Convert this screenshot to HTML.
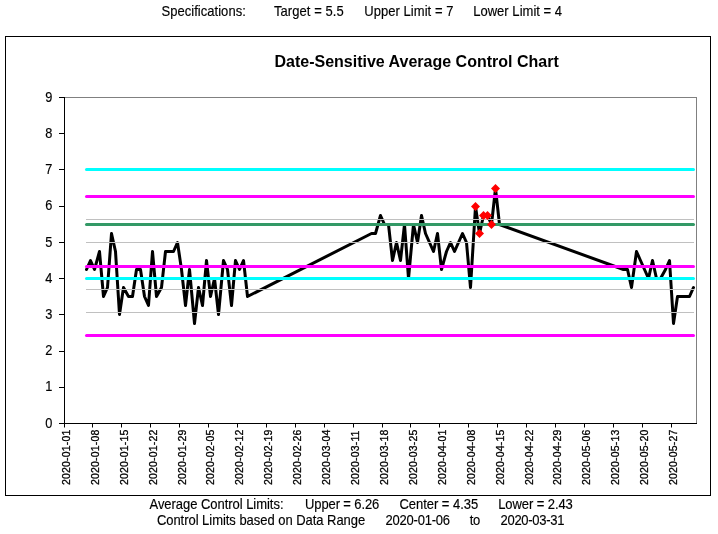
<!DOCTYPE html>
<html><head><meta charset="utf-8"><title>Date-Sensitive Average Control Chart</title>
<style>
html,body{margin:0;padding:0;background:#fff;}
body{width:718px;height:534px;position:relative;overflow:hidden;font-family:"Liberation Sans",Arial,sans-serif;color:#000;}
.t{position:absolute;white-space:pre;transform:scaleY(1.085);transform-origin:0 11.8px;-webkit-text-stroke:0.15px #000;font-size:13px;line-height:15px;}
svg text{font-family:"Liberation Sans",Arial,sans-serif;fill:#000;stroke:#000;stroke-width:0.15px;}
.yl{font-size:13.5px;}
.xl{font-size:10.5px;letter-spacing:0.17px;stroke-width:0.3px;}
.title{font-size:16px;font-weight:bold;stroke:none;}
</style></head><body>
<svg width="718" height="534" viewBox="0 0 718 534" style="position:absolute;left:0;top:0">
<rect x="5.5" y="36.5" width="705" height="459" fill="#fff" stroke="#000" stroke-width="1"/>
<rect x="64.5" y="97.5" width="632.0" height="326.0" fill="#fff" stroke="#808080" stroke-width="1"/>
<polyline points="86.50,269.50 90.50,260.50 94.50,269.50 99.50,251.50 103.50,296.50 107.50,287.50 111.50,233.50 115.50,251.50 119.50,314.50 123.50,287.50 128.50,296.50 132.50,296.50 136.50,269.50 140.50,269.50 144.50,296.50 148.50,305.50 152.50,251.50 156.50,296.50 161.50,287.50 165.50,251.50 169.50,251.50 173.50,251.50 177.50,242.50 181.50,269.50 185.50,305.50 189.50,269.50 194.50,323.50 198.50,287.50 202.50,305.50 206.50,260.50 210.50,296.50 214.50,278.50 218.50,314.50 223.50,260.50 227.50,269.50 231.50,305.50 235.50,260.50 239.50,269.50 243.50,260.50 247.50,296.50 371.50,233.50 375.50,233.50 380.50,215.50 384.50,224.50 388.50,224.50 392.50,260.50 396.50,242.50 400.50,260.50 404.50,224.50 408.50,278.50 413.50,224.50 417.50,242.50 421.50,215.50 425.50,233.50 429.50,242.50 433.50,251.50 437.50,233.50 441.50,269.50 446.50,251.50 450.50,242.50 454.50,251.50 458.50,242.50 462.50,233.50 466.50,242.50 470.50,287.50 475.50,206.50 479.50,233.50 483.50,215.50 487.50,215.50 491.50,224.50 495.50,188.50 499.50,224.50 623.50,269.50 627.50,269.50 631.50,287.50 636.50,251.50 640.50,260.50 644.50,269.50 648.50,278.50 652.50,260.50 656.50,278.50 660.50,278.50 665.50,269.50 669.50,260.50 673.50,323.50 677.50,296.50 681.50,296.50 685.50,296.50 689.50,296.50 693.50,287.50" fill="none" stroke="#000" stroke-width="3" stroke-linejoin="round" stroke-linecap="round"/>
<line x1="86.00" x2="694.00" y1="219.5" y2="219.5" stroke="#c0c0c0" stroke-width="1"/>
<line x1="86.00" x2="694.00" y1="242.5" y2="242.5" stroke="#c0c0c0" stroke-width="1"/>
<line x1="86.00" x2="694.00" y1="289.5" y2="289.5" stroke="#c0c0c0" stroke-width="1"/>
<line x1="86.00" x2="694.00" y1="312.5" y2="312.5" stroke="#c0c0c0" stroke-width="1"/>
<line x1="86.50" x2="693.50" y1="224.5" y2="224.5" stroke="#339966" stroke-width="3" stroke-linecap="round"/>
<line x1="86.50" x2="693.50" y1="169.5" y2="169.5" stroke="#00ffff" stroke-width="3" stroke-linecap="round"/>
<line x1="86.50" x2="693.50" y1="278.5" y2="278.5" stroke="#00ffff" stroke-width="3" stroke-linecap="round"/>
<line x1="86.50" x2="693.50" y1="196.5" y2="196.5" stroke="#ff00ff" stroke-width="3" stroke-linecap="round"/>
<line x1="86.50" x2="693.50" y1="266.5" y2="266.5" stroke="#ff00ff" stroke-width="3" stroke-linecap="round"/>
<line x1="86.50" x2="693.50" y1="335.5" y2="335.5" stroke="#ff00ff" stroke-width="3" stroke-linecap="round"/>
<polygon points="475.50,202.00 480.00,206.50 475.50,211.00 471.00,206.50" fill="#ff0000"/>
<polygon points="479.50,229.00 484.00,233.50 479.50,238.00 475.00,233.50" fill="#ff0000"/>
<polygon points="483.50,211.00 488.00,215.50 483.50,220.00 479.00,215.50" fill="#ff0000"/>
<polygon points="487.50,211.00 492.00,215.50 487.50,220.00 483.00,215.50" fill="#ff0000"/>
<polygon points="491.50,220.00 496.00,224.50 491.50,229.00 487.00,224.50" fill="#ff0000"/>
<polygon points="495.50,184.00 500.00,188.50 495.50,193.00 491.00,188.50" fill="#ff0000"/>
<line x1="64.5" x2="64.5" y1="97.0" y2="424.0" stroke="#000" stroke-width="1"/>
<line x1="59.0" x2="697.0" y1="423.5" y2="423.5" stroke="#000" stroke-width="1"/>
<line x1="59.0" x2="64.5" y1="423.5" y2="423.5" stroke="#000" stroke-width="1"/>
<text transform="translate(52.5,427.60) scale(0.95,1.07)" text-anchor="end" class="yl">0</text>
<line x1="59.0" x2="64.5" y1="387.5" y2="387.5" stroke="#000" stroke-width="1"/>
<text transform="translate(52.5,391.38) scale(0.95,1.07)" text-anchor="end" class="yl">1</text>
<line x1="59.0" x2="64.5" y1="351.5" y2="351.5" stroke="#000" stroke-width="1"/>
<text transform="translate(52.5,355.16) scale(0.95,1.07)" text-anchor="end" class="yl">2</text>
<line x1="59.0" x2="64.5" y1="314.5" y2="314.5" stroke="#000" stroke-width="1"/>
<text transform="translate(52.5,318.93) scale(0.95,1.07)" text-anchor="end" class="yl">3</text>
<line x1="59.0" x2="64.5" y1="278.5" y2="278.5" stroke="#000" stroke-width="1"/>
<text transform="translate(52.5,282.71) scale(0.95,1.07)" text-anchor="end" class="yl">4</text>
<line x1="59.0" x2="64.5" y1="242.5" y2="242.5" stroke="#000" stroke-width="1"/>
<text transform="translate(52.5,247.19) scale(0.95,1.07)" text-anchor="end" class="yl">5</text>
<line x1="59.0" x2="64.5" y1="206.5" y2="206.5" stroke="#000" stroke-width="1"/>
<text transform="translate(52.5,210.27) scale(0.95,1.07)" text-anchor="end" class="yl">6</text>
<line x1="59.0" x2="64.5" y1="169.5" y2="169.5" stroke="#000" stroke-width="1"/>
<text transform="translate(52.5,174.04) scale(0.95,1.07)" text-anchor="end" class="yl">7</text>
<line x1="59.0" x2="64.5" y1="133.5" y2="133.5" stroke="#000" stroke-width="1"/>
<text transform="translate(52.5,137.82) scale(0.95,1.07)" text-anchor="end" class="yl">8</text>
<line x1="59.0" x2="64.5" y1="97.5" y2="97.5" stroke="#000" stroke-width="1"/>
<text transform="translate(52.5,101.60) scale(0.95,1.07)" text-anchor="end" class="yl">9</text>
<line x1="64.5" x2="64.5" y1="423.0" y2="427.5" stroke="#000" stroke-width="1"/>
<text transform="translate(69.90,485.0) rotate(-90)" class="xl">2020-01-01</text>
<line x1="92.5" x2="92.5" y1="423.0" y2="427.5" stroke="#000" stroke-width="1"/>
<text transform="translate(98.82,485.0) rotate(-90)" class="xl">2020-01-08</text>
<line x1="121.5" x2="121.5" y1="423.0" y2="427.5" stroke="#000" stroke-width="1"/>
<text transform="translate(127.73,485.0) rotate(-90)" class="xl">2020-01-15</text>
<line x1="150.5" x2="150.5" y1="423.0" y2="427.5" stroke="#000" stroke-width="1"/>
<text transform="translate(156.65,485.0) rotate(-90)" class="xl">2020-01-22</text>
<line x1="179.5" x2="179.5" y1="423.0" y2="427.5" stroke="#000" stroke-width="1"/>
<text transform="translate(185.56,485.0) rotate(-90)" class="xl">2020-01-29</text>
<line x1="208.5" x2="208.5" y1="423.0" y2="427.5" stroke="#000" stroke-width="1"/>
<text transform="translate(214.48,485.0) rotate(-90)" class="xl">2020-02-05</text>
<line x1="237.5" x2="237.5" y1="423.0" y2="427.5" stroke="#000" stroke-width="1"/>
<text transform="translate(243.39,485.0) rotate(-90)" class="xl">2020-02-12</text>
<line x1="266.5" x2="266.5" y1="423.0" y2="427.5" stroke="#000" stroke-width="1"/>
<text transform="translate(272.31,485.0) rotate(-90)" class="xl">2020-02-19</text>
<line x1="295.5" x2="295.5" y1="423.0" y2="427.5" stroke="#000" stroke-width="1"/>
<text transform="translate(301.22,485.0) rotate(-90)" class="xl">2020-02-26</text>
<line x1="324.5" x2="324.5" y1="423.0" y2="427.5" stroke="#000" stroke-width="1"/>
<text transform="translate(330.14,485.0) rotate(-90)" class="xl">2020-03-04</text>
<line x1="353.5" x2="353.5" y1="423.0" y2="427.5" stroke="#000" stroke-width="1"/>
<text transform="translate(359.05,485.0) rotate(-90)" class="xl">2020-03-11</text>
<line x1="382.5" x2="382.5" y1="423.0" y2="427.5" stroke="#000" stroke-width="1"/>
<text transform="translate(387.97,485.0) rotate(-90)" class="xl">2020-03-18</text>
<line x1="410.5" x2="410.5" y1="423.0" y2="427.5" stroke="#000" stroke-width="1"/>
<text transform="translate(416.88,485.0) rotate(-90)" class="xl">2020-03-25</text>
<line x1="439.5" x2="439.5" y1="423.0" y2="427.5" stroke="#000" stroke-width="1"/>
<text transform="translate(445.80,485.0) rotate(-90)" class="xl">2020-04-01</text>
<line x1="468.5" x2="468.5" y1="423.0" y2="427.5" stroke="#000" stroke-width="1"/>
<text transform="translate(474.71,485.0) rotate(-90)" class="xl">2020-04-08</text>
<line x1="497.5" x2="497.5" y1="423.0" y2="427.5" stroke="#000" stroke-width="1"/>
<text transform="translate(503.63,485.0) rotate(-90)" class="xl">2020-04-15</text>
<line x1="526.5" x2="526.5" y1="423.0" y2="427.5" stroke="#000" stroke-width="1"/>
<text transform="translate(532.54,485.0) rotate(-90)" class="xl">2020-04-22</text>
<line x1="555.5" x2="555.5" y1="423.0" y2="427.5" stroke="#000" stroke-width="1"/>
<text transform="translate(561.46,485.0) rotate(-90)" class="xl">2020-04-29</text>
<line x1="584.5" x2="584.5" y1="423.0" y2="427.5" stroke="#000" stroke-width="1"/>
<text transform="translate(590.37,485.0) rotate(-90)" class="xl">2020-05-06</text>
<line x1="613.5" x2="613.5" y1="423.0" y2="427.5" stroke="#000" stroke-width="1"/>
<text transform="translate(619.29,485.0) rotate(-90)" class="xl">2020-05-13</text>
<line x1="642.5" x2="642.5" y1="423.0" y2="427.5" stroke="#000" stroke-width="1"/>
<text transform="translate(648.20,485.0) rotate(-90)" class="xl">2020-05-20</text>
<line x1="671.5" x2="671.5" y1="423.0" y2="427.5" stroke="#000" stroke-width="1"/>
<text transform="translate(677.12,485.0) rotate(-90)" class="xl">2020-05-27</text>
<text x="416.6" y="67.4" text-anchor="middle" class="title">Date-Sensitive Average Control Chart</text>
</svg>
<div class="t" style="left:161.5px;top:4px;letter-spacing:0.034px">Specifications:</div>
<div class="t" style="left:273.9px;top:4px;letter-spacing:0.079px">Target = 5.5</div>
<div class="t" style="left:364.2px;top:4px;letter-spacing:0.056px">Upper Limit = 7</div>
<div class="t" style="left:473.2px;top:4px;letter-spacing:0.027px">Lower Limit = 4</div>
<div class="t" style="left:149.5px;top:497px;letter-spacing:-0.040px">Average Control Limits:</div>
<div class="t" style="left:305.0px;top:497px;letter-spacing:-0.112px">Upper = 6.26</div>
<div class="t" style="left:399.5px;top:497px;letter-spacing:-0.037px">Center = 4.35</div>
<div class="t" style="left:498.2px;top:497px;letter-spacing:-0.085px">Lower = 2.43</div>
<div class="t" style="left:156.9px;top:513px;letter-spacing:-0.038px">Control Limits based on Data Range</div>
<div class="t" style="left:385.5px;top:513px;letter-spacing:-0.211px">2020-01-06</div>
<div class="t" style="left:469.8px;top:513px;letter-spacing:-0.444px">to</div>
<div class="t" style="left:500.5px;top:513px;letter-spacing:-0.278px">2020-03-31</div>
</body></html>
